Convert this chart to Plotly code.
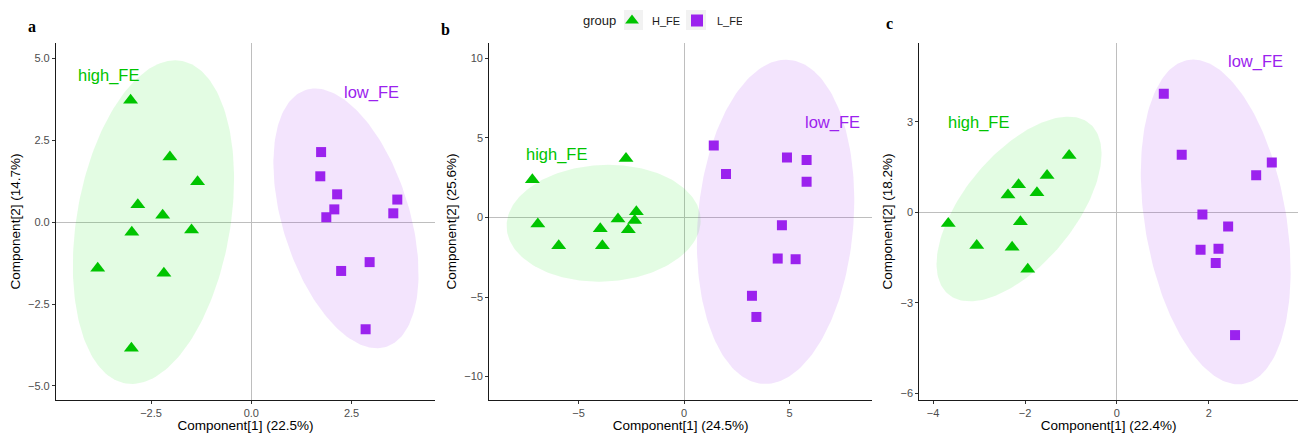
import numpy as np
import plotly.graph_objects as go

# ---------------- data ----------------
panels = ["a", "b", "c"]
x_titles = ["Component[1] (22.5%)", "Component[1] (24.5%)", "Component[1] (22.4%)"]
y_titles = ["Component[2] (14.7%)", "Component[2] (25.6%)", "Component[2] (18.2%)"]
groups = ["H_FE", "L_FE"]
group_labels = ["high_FE", "low_FE"]
legend_title = "group"

# panel a
a_H_x = [-3.01, -2.03, -1.34, -2.83, -2.21, -2.98, -1.49, -3.83, -2.18, -2.99]
a_H_y = [3.72, 1.99, 1.23, 0.53, 0.21, -0.31, -0.24, -1.41, -1.56, -3.85]
a_L_x = [1.74, 1.72, 2.14, 2.07, 1.87, 3.64, 3.54, 2.95, 2.24, 2.85]
a_L_y = [2.14, 1.40, 0.85, 0.39, 0.15, 0.69, 0.27, -1.22, -1.49, -3.27]
# panel b
b_H_x = [-7.19, -2.75, -6.93, -5.94, -3.97, -3.87, -3.13, -2.26, -2.34, -2.64]
b_H_y = [2.37, 3.71, -0.40, -1.78, -0.71, -1.78, -0.10, 0.36, -0.19, -0.77]
b_L_x = [1.41, 1.99, 4.88, 5.81, 5.81, 4.64, 4.44, 5.29, 3.22, 3.43]
b_L_y = [4.53, 2.73, 3.77, 3.61, 2.25, -0.48, -2.58, -2.62, -4.92, -6.25]
# panel c
c_H_x = [-1.04, -1.52, -2.14, -2.37, -1.74, -2.10, -3.67, -3.05, -2.28, -1.94]
c_H_y = [1.88, 1.22, 0.91, 0.57, 0.65, -0.31, -0.37, -1.10, -1.16, -1.89]
c_L_x = [1.02, 1.41, 3.37, 3.03, 1.86, 2.42, 1.82, 2.21, 2.15, 2.57]
c_L_y = [3.93, 1.91, 1.65, 1.23, -0.07, -0.47, -1.24, -1.21, -1.68, -4.07]

# ellipses: centre x, centre y, half width, half height, x offset of top point
a_H_ell = [-2.44, 0.00, 2.01, 4.94, 0.54]
a_L_ell = [2.36, 0.115, 1.81, 3.965, -0.77]
b_H_ell = [-3.81, -0.36, 4.60, 3.67, 0.22]
b_L_ell = [4.34, -0.27, 3.73, 10.19, 0.49]
c_H_ell = [-2.13, 0.11, 1.795, 3.06, 1.07]
c_L_ell = [2.15, -0.32, 1.63, 5.38, -0.49]

# label positions (data coords)
a_lab = [[-3.55, 4.48], [3.0, 3.97]]
b_lab = [[-6.06, 3.99], [7.04, 5.97]]
c_lab = [[-3.01, 2.98], [3.01, 4.99]]

# axis ticks
a_xt = [-2.5, 0.0, 2.5]; a_yt = [-5.0, -2.5, 0.0, 2.5, 5.0]
b_xt = [-5, 0, 5];       b_yt = [-10, -5, 0, 5, 10]
c_xt = [-4, -2, 0, 2];   c_yt = [-6, -3, 0, 3]

# ---------------- styling ----------------
FONT = "Liberation Sans, Arial, sans-serif"
col_pt = {"H_FE": "#00C400", "L_FE": "#9B22EE"}
col_fill = {"H_FE": "rgba(0,225,0,0.11)", "L_FE": "rgba(155,35,235,0.12)"}
col_txt = {"H_FE": "#00C400", "L_FE": "#9B22EE"}
sym = {"H_FE": "triangle-up", "L_FE": "square"}
msize = {"H_FE": 13, "L_FE": 10}

W, H = 1298, 433
x_dom = [[56 / W, 435 / W], [489.3 / W, 872 / W], [919.3 / W, 1.0]]
y_dom = [33 / H, 390 / H]
x_rng = [[-4.87, 4.58], [-9.23, 8.91], [-4.30, 3.94]]
y_rng = [[-5.43, 5.47], [-11.47, 10.97], [-6.22, 5.61]]
fmt = [".1f", "d", "d"]

pdata = [
    (a_H_x, a_H_y, a_L_x, a_L_y, a_H_ell, a_L_ell, a_lab, a_xt, a_yt),
    (b_H_x, b_H_y, b_L_x, b_L_y, b_H_ell, b_L_ell, b_lab, b_xt, b_yt),
    (c_H_x, c_H_y, c_L_x, c_L_y, c_H_ell, c_L_ell, c_lab, c_xt, c_yt),
]

t = np.linspace(0, 2 * np.pi, 200)


def ellipse(p):
    cx, cy, hw, hh, dx = p
    h = np.sqrt(max(hw ** 2 - dx ** 2, 0))
    return cx + dx * np.cos(t) + h * np.sin(t), cy + hh * np.cos(t)


fig = go.Figure()
layout = {}
annotations = []
for i, (hx, hy, lx, ly, hell, lell, lab, xt, yt) in enumerate(pdata):
    sfx = "" if i == 0 else str(i + 1)
    xa, ya = "x" + sfx, "y" + sfx
    for g, ell in zip(groups, [hell, lell]):
        ex, ey = ellipse(ell)
        fig.add_trace(go.Scatter(x=ex, y=ey, mode="lines", fill="toself",
                                 fillcolor=col_fill[g], line=dict(width=0),
                                 hoverinfo="skip", showlegend=False,
                                 xaxis=xa, yaxis=ya))
    for g, xs, ys in zip(groups, [hx, lx], [hy, ly]):
        fig.add_trace(go.Scatter(x=xs, y=ys, mode="markers", name=g,
                                 marker=dict(symbol=sym[g], size=msize[g],
                                             color=col_pt[g], line=dict(width=0)),
                                 legendgroup=g, showlegend=(i == 0),
                                 xaxis=xa, yaxis=ya))
    for g, txt, pos in zip(groups, group_labels, lab):
        annotations.append(dict(x=pos[0], y=pos[1], xref=xa, yref=ya, text=txt,
                                showarrow=False, font=dict(family=FONT, size=16.5,
                                                           color=col_txt[g])))
    axis_common = dict(showline=True, linecolor="#1a1a1a", linewidth=1.2,
                       ticks="outside", ticklen=3, tickwidth=1, tickcolor="#333333",
                       tickfont=dict(family=FONT, size=11, color="#4D4D4D"),
                       showgrid=False, zeroline=True, zerolinecolor="#BEBEBE",
                       zerolinewidth=1.2, mirror=False, automargin=False,
                       title_font=dict(family=FONT, size=13.5, color="#000000"))
    layout["xaxis" + sfx] = dict(domain=x_dom[i], range=x_rng[i], anchor=ya,
                                 tickvals=xt, tickformat=fmt[i],
                                 title=dict(text=x_titles[i], standoff=3),
                                 **axis_common)
    layout["yaxis" + sfx] = dict(domain=y_dom, range=y_rng[i], anchor=xa,
                                 tickvals=yt, tickformat=fmt[i],
                                 title=dict(text=y_titles[i], standoff=4),
                                 **axis_common)

panel_pos = [(32, 26), (445, 29), (889, 23)]
for lbl, (px, py) in zip(panels, panel_pos):
    annotations.append(dict(x=px / W, y=1 - py / H, xref="paper", yref="paper",
                            xanchor="center", yanchor="middle",
                            text="<b>" + lbl + "</b>", showarrow=False,
                            font=dict(family="Liberation Serif, Times New Roman, serif",
                                      size=16, color="#000000")))

# legend title
annotations.append(dict(x=599 / W, y=1 - 20 / H, xref="paper", yref="paper",
                        xanchor="center", yanchor="middle", text=legend_title,
                        showarrow=False,
                        font=dict(family=FONT, size=13, color="#1a1a1a")))

# grey key backgrounds of the legend
shapes = []
for x0, x1 in [(624, 643), (686, 706)]:
    shapes.append(dict(type="rect", xref="paper", yref="paper",
                       x0=x0 / W, x1=x1 / W, y0=1 - 30 / H, y1=1 - 10 / H,
                       fillcolor="#F2F2F2", line=dict(width=0), layer="below"))

fig.update_layout(
    width=W, height=H, margin=dict(l=0, r=0, t=0, b=0, autoexpand=False),
    plot_bgcolor="white", paper_bgcolor="white",
    annotations=annotations, shapes=shapes,
    legend=dict(orientation="h", x=612 / W, y=1 - 6 / H, xanchor="left", yanchor="top",
                font=dict(family=FONT, size=11, color="#1a1a1a"),
                itemwidth=30, entrywidth=20, entrywidthmode="pixels",
                itemsizing="constant", bgcolor="rgba(0,0,0,0)"),
    **layout,
)

fig.write_html("out.html", config={"displayModeBar": False},
               post_script="document.body.style.margin='0px';")
